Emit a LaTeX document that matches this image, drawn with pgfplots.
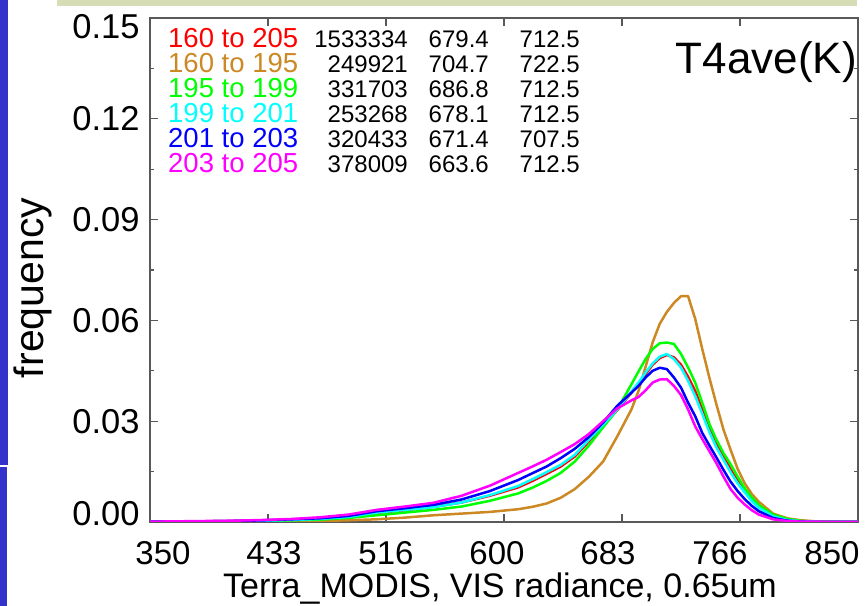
\documentclass[border=0pt]{standalone}
\usepackage{fontspec}
\setmainfont{Liberation Sans}
\usepackage{pgfplots}
\usepackage{pgfplotstable}
\pgfplotsset{compat=1.18}

\definecolor{cRed}{RGB}{255,0,0}
\definecolor{cBrown}{RGB}{204,136,34}
\definecolor{cGreen}{RGB}{0,255,0}
\definecolor{cCyan}{RGB}{0,255,255}
\definecolor{cBlue}{RGB}{0,0,255}
\definecolor{cMag}{RGB}{255,0,255}
\definecolor{slideBlue}{RGB}{51,51,204}
\definecolor{slideBar}{RGB}{214,220,182}

% frequency per radiance bin, one column per T4ave range
\pgfplotstableread{
x    R      N      G      C      B      M
350  0.0001 0.0000 0.0000 0.0001 0.0001 0.0001
370  0.0001 0.0000 0.0001 0.0001 0.0001 0.0002
390  0.0002 0.0001 0.0001 0.0002 0.0002 0.0003
410  0.0003 0.0001 0.0002 0.0003 0.0003 0.0004
430  0.0004 0.0001 0.0003 0.0004 0.0005 0.0006
450  0.0006 0.0002 0.0005 0.0006 0.0008 0.0009
470  0.0009 0.0003 0.0007 0.0009 0.0011 0.0014
490  0.0015 0.0005 0.0012 0.0015 0.0018 0.0022
510  0.0027 0.0008 0.0020 0.0028 0.0032 0.0036
530  0.0035 0.0013 0.0028 0.0036 0.0041 0.0046
550  0.0045 0.0020 0.0036 0.0044 0.0051 0.0057
570  0.0058 0.0025 0.0046 0.0058 0.0067 0.0078
590  0.0078 0.0030 0.0063 0.0080 0.0092 0.0108
610  0.0103 0.0038 0.0085 0.0107 0.0125 0.0146
620  0.0122 0.0045 0.0102 0.0127 0.0145 0.0165
630  0.0143 0.0055 0.0122 0.0148 0.0165 0.0185
640  0.0165 0.0072 0.0146 0.0170 0.0190 0.0208
650  0.0195 0.0098 0.0180 0.0200 0.0218 0.0232
660  0.0240 0.0135 0.0228 0.0245 0.0253 0.0262
670  0.0287 0.0180 0.0282 0.0290 0.0296 0.0300
680  0.0333 0.0255 0.0335 0.0335 0.0346 0.0338
690  0.0385 0.0335 0.0410 0.0388 0.0385 0.0362
695  0.0412 0.0390 0.0448 0.0415 0.0405 0.0372
700  0.0440 0.0462 0.0485 0.0445 0.0430 0.0392
705  0.0468 0.0535 0.0515 0.0472 0.0450 0.0415
710  0.0488 0.0590 0.0532 0.0492 0.0459 0.0424
715  0.0497 0.0625 0.0534 0.0500 0.0455 0.0425
720  0.0490 0.0652 0.0530 0.0485 0.0430 0.0405
725  0.0468 0.0672 0.0500 0.0460 0.0400 0.0378
730  0.0432 0.0672 0.0460 0.0420 0.0355 0.0335
735  0.0390 0.0605 0.0415 0.0375 0.0315 0.0285
740  0.0335 0.0515 0.0355 0.0322 0.0265 0.0247
745  0.0282 0.0430 0.0292 0.0268 0.0228 0.0211
750  0.0235 0.0350 0.0245 0.0222 0.0192 0.0175
755  0.0195 0.0275 0.0205 0.0185 0.0155 0.0135
760  0.0157 0.0215 0.0172 0.0148 0.0120 0.0098
765  0.0122 0.0158 0.0135 0.0115 0.0092 0.0072
770  0.0094 0.0115 0.0100 0.0088 0.0068 0.0052
775  0.0067 0.0083 0.0073 0.0062 0.0048 0.0035
780  0.0046 0.0060 0.0050 0.0042 0.0032 0.0022
790  0.0019 0.0025 0.0022 0.0017 0.0012 0.0008
800  0.0007 0.0011 0.0009 0.0006 0.0004 0.0003
810  0.0002 0.0005 0.0003 0.0002 0.0001 0.0001
820  0.0001 0.0002 0.0001 0.0001 0.0000 0.0001
835  0.0000 0.0001 0.0000 0.0000 0.0000 0.0000
850  0.0000 0.0000 0.0000 0.0000 0.0000 0.0000
}\freqdata

\newcommand{\fs}[1]{\fontsize{#1bp}{#1bp}\selectfont}
% y tick label, vertically offset from its tick
\newcommand{\yl}[2]{\smash{\raisebox{#2}{#1}}}

\begin{document}
\begin{tikzpicture}[x=1bp,y=1bp]
\path[use as bounding box] (0,0) rectangle (866,606);
\fill[white] (0,0) rectangle (866,606);
\fill[slideBlue] (0,141) rectangle (8,606);
\fill[slideBlue] (0,0) rectangle (7,139);
\fill[slideBar] (57,600) rectangle (857,606);

\begin{axis}[
    at={(150bp,84bp)}, anchor=south west,
    width=708bp, height=504bp, scale only axis,
    xmin=350, xmax=850, ymin=0, ymax=0.15,
    xtick={350,433.333,516.667,600,683.333,766.667,850},
    xticklabels={\hspace*{26bp}350,\hspace*{12bp}433,516,600\hspace*{14bp},
                 683\hspace*{28bp},766\hspace*{40bp},850\hspace*{52bp}},
    ytick={0,0.03,0.06,0.09,0.12,0.15},
    yticklabels={\yl{0.00}{-4bp},\yl{0.03}{-12bp},\yl{0.06}{-12bp},
                 \yl{0.09}{-12bp},\yl{0.12}{-12bp},\yl{0.15}{-21bp}},
    minor x tick num=1, minor y tick num=1,
    tick align=inside,
    major tick length=8bp, minor tick length=4bp,
    axis line style={draw=black!65, line width=1.2bp},
    every tick/.style={draw=black!65, line width=1.2bp},
    xticklabel style={font=\fs{33}, anchor=base, yshift=-43bp},
    yticklabel style={font=\fs{34.5}, anchor=east, xshift=-7bp},
    every axis plot/.append style={line width=2.5bp, line join=round},
]
\addplot[cRed]   table[x=x, y=R] {\freqdata};
\addplot[cBrown] table[x=x, y=N] {\freqdata};
\addplot[cGreen] table[x=x, y=G] {\freqdata};
\addplot[cCyan]  table[x=x, y=C] {\freqdata};
\addplot[cBlue]  table[x=x, y=B] {\freqdata};
\addplot[cMag]   table[x=x, y=M] {\freqdata};
\end{axis}

% range / count / mean / mode
\foreach \y/\c/\lab/\n/\mean/\mode in {
    558/cRed/160 to 205/1533334/679.4/712.5,
    533/cBrown/160 to 195/249921/704.7/722.5,
    508/cGreen/195 to 199/331703/686.8/712.5,
    483/cCyan/199 to 201/253268/678.1/712.5,
    458/cBlue/201 to 203/320433/671.4/707.5,
    433/cMag/203 to 205/378009/663.6/712.5} {
  \node[anchor=base west, inner sep=0, text=\c, font=\fs{27.5}] at (168,\y) {\lab};
  \node[anchor=base east, inner sep=0, font=\fs{24}] at (408,\y) {\n};
  \node[anchor=base east, inner sep=0, font=\fs{24}] at (489,\y) {\mean};
  \node[anchor=base east, inner sep=0, font=\fs{24}] at (580,\y) {\mode};
}
\node[anchor=base east, inner sep=0, font=\fs{44}] at (857,532) {T4ave(K)};
\node[rotate=90, font=\fs{41}] at (33,318) {frequency};
\node[anchor=base, inner sep=0, font=\fs{34}] at (500,8) {Terra\_MODIS, VIS radiance, 0.65um};
\end{tikzpicture}
\end{document}
